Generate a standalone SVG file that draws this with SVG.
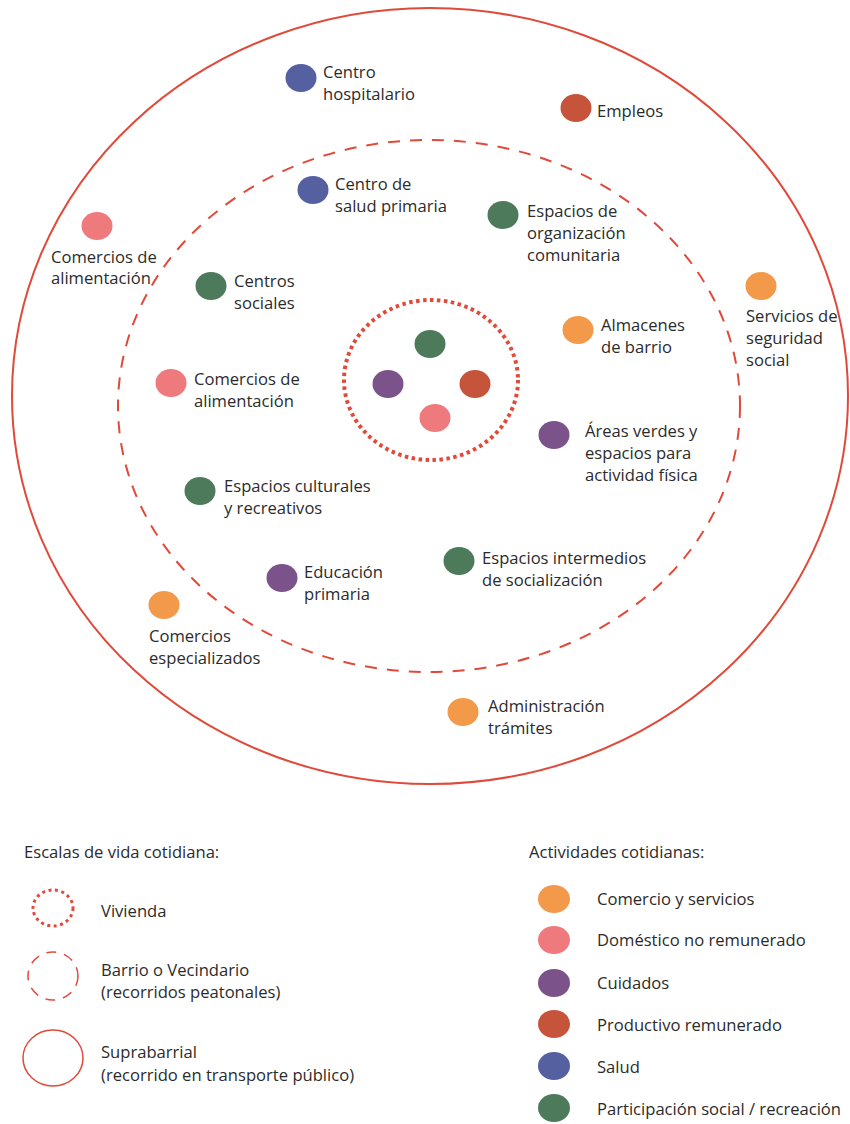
<svg xmlns="http://www.w3.org/2000/svg" width="850" height="1124" viewBox="0 0 850 1124">
<style>
.t{font-family:"Open Sans","Noto Sans",sans-serif;font-size:16.6px;fill:#2b2b2b}
.ring{fill:none;stroke:#e04a3a}
.o{fill:#f39a4a}.p{fill:#ee7a7e}.v{fill:#7b528a}.r{fill:#c5543a}.b{fill:#5460a0}.g{fill:#4e7a5c}
</style>
<rect width="850" height="1124" fill="#fff"/>
<g id="scales">
<ellipse id="supra" class="ring" cx="430" cy="396" rx="418" ry="388" stroke-width="2"/>
<ellipse id="barrio" class="ring" cx="429" cy="406" rx="311" ry="266" stroke-width="2" stroke-dasharray="12 10"/>
<ellipse id="vivienda" class="ring" cx="431" cy="380" rx="87" ry="80" stroke-width="4" stroke-dasharray="3.5 3.5"/>
</g>
<g id="center">
<ellipse class="g" cx="430" cy="344" rx="15.5" ry="14"/>
<ellipse class="v" cx="388" cy="384" rx="15.5" ry="14"/>
<ellipse class="r" cx="475" cy="384" rx="15.5" ry="14"/>
<ellipse class="p" cx="435" cy="418" rx="15.5" ry="14"/>
</g>
<g id="n1"><ellipse class="b" cx="301" cy="78" rx="15.5" ry="14"/><text class="t" x="323" y="78">Centro<tspan x="323" dy="22">hospitalario</tspan></text></g>
<g id="n2"><ellipse class="r" cx="576" cy="108" rx="15.5" ry="14"/><text class="t" x="597" y="117">Empleos</text></g>
<g id="n3"><ellipse class="b" cx="313" cy="190" rx="15.5" ry="14"/><text class="t" x="335" y="190">Centro de<tspan x="335" dy="22">salud primaria</tspan></text></g>
<g id="n4"><ellipse class="g" cx="503" cy="215" rx="15.5" ry="14"/><text class="t" x="527" y="217">Espacios de<tspan x="527" dy="22">organización</tspan><tspan x="527" dy="22">comunitaria</tspan></text></g>
<g id="n5"><ellipse class="p" cx="97" cy="226" rx="15.5" ry="14"/><text class="t" x="51" y="263">Comercios de<tspan x="51" dy="21">alimentación</tspan></text></g>
<g id="n6"><ellipse class="g" cx="211" cy="286" rx="15.5" ry="14"/><text class="t" x="234" y="287">Centros<tspan x="234" dy="22">sociales</tspan></text></g>
<g id="n7"><ellipse class="o" cx="578" cy="330" rx="15.5" ry="14"/><text class="t" x="601" y="331">Almacenes<tspan x="601" dy="22">de barrio</tspan></text></g>
<g id="n8"><ellipse class="o" cx="761" cy="286" rx="15.5" ry="14"/><text class="t" x="746" y="322">Servicios de<tspan x="746" dy="22">seguridad</tspan><tspan x="746" dy="22">social</tspan></text></g>
<g id="n9"><ellipse class="p" cx="171" cy="383" rx="15.5" ry="14"/><text class="t" x="194" y="385">Comercios de<tspan x="194" dy="22">alimentación</tspan></text></g>
<g id="n10"><ellipse class="v" cx="554" cy="435" rx="15.5" ry="14"/><text class="t" x="585" y="437">Áreas verdes y<tspan x="585" dy="22">espacios para</tspan><tspan x="585" dy="22">actividad física</tspan></text></g>
<g id="n11"><ellipse class="g" cx="200" cy="491" rx="15.5" ry="14"/><text class="t" x="224" y="492">Espacios culturales<tspan x="224" dy="22">y recreativos</tspan></text></g>
<g id="n12"><ellipse class="v" cx="282" cy="578" rx="15.5" ry="14"/><text class="t" x="304" y="578">Educación<tspan x="304" dy="22">primaria</tspan></text></g>
<g id="n13"><ellipse class="g" cx="459" cy="561" rx="15.5" ry="14"/><text class="t" x="482" y="564">Espacios intermedios<tspan x="482" dy="22">de socialización</tspan></text></g>
<g id="n14"><ellipse class="o" cx="164" cy="605" rx="15.5" ry="14"/><text class="t" x="149" y="642">Comercios<tspan x="149" dy="22">especializados</tspan></text></g>
<g id="n15"><ellipse class="o" cx="463" cy="712" rx="15.5" ry="14"/><text class="t" x="488" y="712">Administración<tspan x="488" dy="22">trámites</tspan></text></g>
<g id="legend-scales">
<text class="t" x="24" y="858">Escalas de vida cotidiana:</text>
<ellipse class="ring" cx="53" cy="908" rx="20" ry="18" stroke-width="3" stroke-dasharray="3 3.5"/>
<text class="t" x="101" y="917">Vivienda</text>
<ellipse class="ring" cx="53" cy="976" rx="25" ry="24" stroke-width="1.5" stroke-dasharray="10 8"/>
<text class="t" x="101" y="976">Barrio o Vecindario<tspan x="101" dy="22">(recorridos peatonales)</tspan></text>
<ellipse class="ring" cx="53" cy="1058" rx="30" ry="28" stroke-width="1.5"/>
<text class="t" x="101" y="1058">Suprabarrial<tspan x="101" dy="23">(recorrido en transporte público)</tspan></text>
</g>
<g id="legend-activities">
<text class="t" x="529" y="858">Actividades cotidianas:</text>
<ellipse class="o" cx="554" cy="899" rx="16" ry="14"/><text class="t" x="597" y="905">Comercio y servicios</text>
<ellipse class="p" cx="554" cy="940" rx="16" ry="14"/><text class="t" x="597" y="946">Doméstico no remunerado</text>
<ellipse class="v" cx="554" cy="983" rx="16" ry="14"/><text class="t" x="597" y="989">Cuidados</text>
<ellipse class="r" cx="554" cy="1024" rx="16" ry="14"/><text class="t" x="597" y="1031">Productivo remunerado</text>
<ellipse class="b" cx="554" cy="1066" rx="16" ry="14"/><text class="t" x="597" y="1073">Salud</text>
<ellipse class="g" cx="554" cy="1108" rx="16" ry="14"/><text class="t" x="597" y="1115">Participación social / recreación</text>
</g>
</svg>
